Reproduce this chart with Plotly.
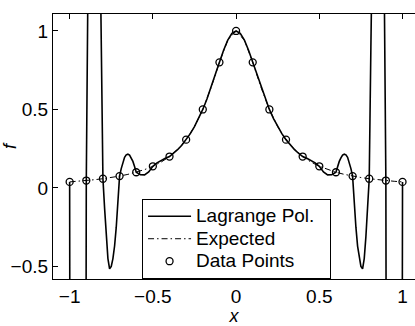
import plotly.graph_objects as go

# Data points (nodes)
x_nodes = [-1.0, -0.9, -0.8, -0.7, -0.6, -0.5, -0.4, -0.3, -0.2, -0.1, 0.0,
           0.1, 0.2, 0.3, 0.4, 0.5, 0.6, 0.7, 0.8, 0.9, 1.0]
f_nodes = [0.0385, 0.0471, 0.0588, 0.0755, 0.1000, 0.1379, 0.2000, 0.3077, 0.5000, 0.8000, 1.0000,
           0.8000, 0.5000, 0.3077, 0.2000, 0.1379, 0.1000, 0.0755, 0.0588, 0.0471, 0.0385]

# Expected curve
x_expected = [-1.0, -0.95, -0.9, -0.85, -0.8, -0.75, -0.7, -0.65, -0.6, -0.55, -0.5,
              -0.45, -0.4, -0.35, -0.3, -0.25, -0.2, -0.15, -0.1, -0.05, 0.0,
              0.05, 0.1, 0.15, 0.2, 0.25, 0.3, 0.35, 0.4, 0.45, 0.5,
              0.55, 0.6, 0.65, 0.7, 0.75, 0.8, 0.85, 0.9, 0.95, 1.0]
f_expected = [0.0385, 0.0424, 0.0471, 0.0525, 0.0588, 0.0664, 0.0755, 0.0865, 0.1000, 0.1168, 0.1379,
              0.1649, 0.2000, 0.2462, 0.3077, 0.3902, 0.5000, 0.6400, 0.8000, 0.9412, 1.0000,
              0.9412, 0.8000, 0.6400, 0.5000, 0.3902, 0.3077, 0.2462, 0.2000, 0.1649, 0.1379,
              0.1168, 0.1000, 0.0865, 0.0755, 0.0664, 0.0588, 0.0525, 0.0471, 0.0424, 0.0385]

# Lagrange polynomial (spikes leave the axes)
x_lagrange = [-1.0, -0.995, -0.95, -0.905, -0.9, -0.89, -0.88, -0.87, -0.85, -0.83, -0.82, -0.81,
              -0.8, -0.79, -0.78, -0.77, -0.76, -0.75, -0.74, -0.73, -0.72, -0.71,
              -0.7, -0.69, -0.68, -0.67, -0.66, -0.65, -0.64, -0.63, -0.62, -0.61,
              -0.6, -0.575, -0.55, -0.525, -0.5, -0.475, -0.45, -0.425, -0.4,
              -0.375, -0.35, -0.325, -0.3, -0.275, -0.25, -0.225, -0.2, -0.175, -0.15, -0.125,
              -0.1, -0.075, -0.05, -0.025, 0.0,
              0.025, 0.05, 0.075, 0.1, 0.125, 0.15, 0.175, 0.2, 0.225, 0.25, 0.275, 0.3,
              0.325, 0.35, 0.375, 0.4, 0.425, 0.45, 0.475, 0.5, 0.525, 0.55, 0.575, 0.6,
              0.61, 0.62, 0.63, 0.64, 0.65, 0.66, 0.67, 0.68, 0.69, 0.7,
              0.71, 0.72, 0.73, 0.74, 0.75, 0.76, 0.77, 0.78, 0.79, 0.8,
              0.81, 0.82, 0.83, 0.85, 0.87, 0.88, 0.89, 0.9, 0.905, 0.95, 0.995, 1.0]
f_lagrange = [0.0385, -3.0, -40.0, -3.0, 0.0471, 1.3, 2.6, 3.5, 4.0, 2.8, 1.8, 0.9,
              0.0588, -0.13, -0.31, -0.45, -0.515, -0.50, -0.45, -0.37, -0.25, -0.10,
              0.0755, 0.123, 0.165, 0.195, 0.211, 0.215, 0.209, 0.191, 0.169, 0.137,
              0.100, 0.084, 0.083, 0.102, 0.1379, 0.160, 0.177, 0.189, 0.2000,
              0.2210, 0.2452, 0.2737, 0.3077, 0.3459, 0.3902, 0.4414, 0.5000, 0.5664, 0.6400, 0.7191,
              0.8000, 0.8767, 0.9412, 0.9846, 1.0000,
              0.9846, 0.9412, 0.8767, 0.8000, 0.7191, 0.6400, 0.5664, 0.5000, 0.4414, 0.3902, 0.3459, 0.3077,
              0.2737, 0.2452, 0.2210, 0.2000, 0.189, 0.177, 0.160, 0.1379, 0.102, 0.083, 0.084, 0.100,
              0.137, 0.169, 0.191, 0.209, 0.215, 0.211, 0.195, 0.165, 0.123, 0.0755,
              -0.10, -0.25, -0.37, -0.45, -0.50, -0.515, -0.45, -0.31, -0.13, 0.0588,
              0.9, 1.8, 2.8, 4.0, 3.5, 2.6, 1.3, 0.0471, -3.0, -40.0, -3.0, 0.0385]

series_names = ["Lagrange Pol.", "Expected", "Data Points"]

tick_vals_x = [-1, -0.5, 0, 0.5, 1]
tick_text_x = ["\u22121", "\u22120.5", "0", "0.5", "1"]
tick_vals_y = [-0.5, 0, 0.5, 1]
tick_text_y = ["\u22120.5", "0", "0.5", "1"]

FONT = "Liberation Sans, Arial, sans-serif"


def legend_label(name):
    return "<span style='font-size:19px'>" + name + "\u00a0\u00a0</span>"


fig = go.Figure()
fig.add_trace(go.Scatter(x=x_lagrange, y=f_lagrange, mode="lines", name=legend_label(series_names[0]),
                         line=dict(color="black", width=1.6)))
fig.add_trace(go.Scatter(x=x_expected, y=f_expected, mode="lines", name=legend_label(series_names[1]),
                         line=dict(color="black", width=1, dash="6px,3px,1.5px,3px")))
fig.add_trace(go.Scatter(x=x_nodes, y=f_nodes, mode="markers", name=legend_label(series_names[2]),
                         marker=dict(symbol="circle-open", size=7, color="black",
                                     line=dict(width=1.3, color="black"))))

fig.update_layout(
    width=415, height=326,
    margin=dict(l=53, r=0, t=14, b=47),
    paper_bgcolor="white", plot_bgcolor="white",
    font=dict(family=FONT, size=19, color="black"),
    showlegend=True,
    legend=dict(x=0.246, y=0.302, xanchor="left", yanchor="top",
                bgcolor="white", bordercolor="black", borderwidth=1,
                font=dict(size=15), itemwidth=43, tracegroupgap=0),
    xaxis=dict(range=[-1.1, 1.075], tickvals=tick_vals_x, ticktext=tick_text_x,
               ticks="inside", ticklen=5, tickcolor="black", tickwidth=1,
               showline=True, linecolor="black", linewidth=1.2, mirror="ticks",
               showgrid=False, zeroline=False, automargin=False,
               title=dict(text="<i>x</i>", standoff=2, font=dict(size=18))),
    yaxis=dict(range=[-0.58, 1.108], tickvals=tick_vals_y, ticktext=tick_text_y,
               ticks="inside", ticklen=5, tickcolor="black", tickwidth=1,
               showline=True, linecolor="black", linewidth=1.2, mirror=False,
               showgrid=False, zeroline=False, automargin=False,
               title=dict(text="<i>f</i>", standoff=6, font=dict(size=18))),
    yaxis2=dict(range=[-0.58, 1.108], overlaying="y", side="right", tickvals=tick_vals_y,
                ticks="inside", ticklen=4, tickcolor="black", showticklabels=False,
                showline=False, showgrid=False, zeroline=False, automargin=False),
)

fig.write_html("out.html", config={"displayModeBar": False},
               post_script="document.body.style.margin='0';document.body.style.overflow='hidden';")
